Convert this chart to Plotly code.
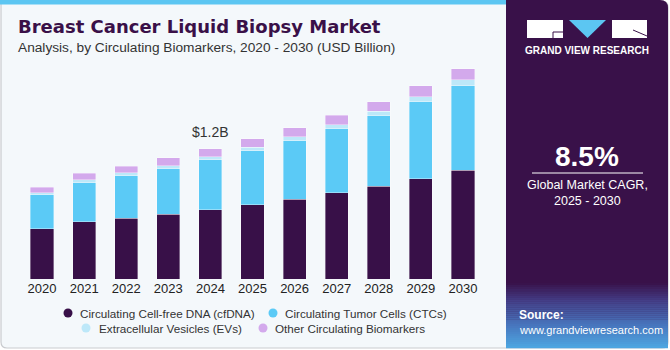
import plotly.graph_objects as go

years = ["2020", "2021", "2022", "2023", "2024", "2025", "2026", "2027", "2028", "2029", "2030"]
cfdna = [0.462, 0.526, 0.560, 0.597, 0.637, 0.683, 0.736, 0.794, 0.856, 0.926, 1.003]
ctcs = [0.314, 0.363, 0.393, 0.421, 0.464, 0.501, 0.541, 0.594, 0.652, 0.711, 0.781]
evs = [0.018, 0.025, 0.025, 0.028, 0.028, 0.031, 0.037, 0.037, 0.041, 0.043, 0.053]
other = [0.053, 0.062, 0.062, 0.071, 0.071, 0.077, 0.080, 0.087, 0.086, 0.102, 0.102]
series_names = ["Circulating Cell-free DNA (cfDNA)", "Circulating Tumor Cells (CTCs)",
                "Extracellular Vesicles (EVs)", "Other Circulating Biomarkers"]
colors = ["#381048", "#5bcaf6", "#bde8f9", "#d3a9ec"]
label_year = "2024"
label_text = "$1.2B"

W, H = 670, 350
def px(x):
    return x / W
def py(y):
    return 1 - y / H

fig = go.Figure()
for name, vals, col in zip(series_names, [cfdna, ctcs, evs, other], colors):
    fig.add_trace(go.Bar(x=years, y=vals, name=name, marker_color=col,
                         marker_line=dict(width=0.6, color="rgba(255,255,255,0.6)"),
                         showlegend=False))

totals = [a + b + c + d for a, b, c, d in zip(cfdna, ctcs, evs, other)]
idx = years.index(label_year)

shapes = []
# background card
shapes.append(dict(type="path", xref="paper", yref="paper",
                   path=f"M {px(1)},{py(1)} L {px(662)},{py(1)} Q {px(668)},{py(1)} {px(668)},{py(7)} "
                        f"L {px(668)},{py(342)} Q {px(668)},{py(348)} {px(662)},{py(348)} "
                        f"L {px(7)},{py(348)} Q {px(1)},{py(348)} {px(1)},{py(342)} Z",
                   fillcolor="#f4f8fb", line=dict(color="#c9cbcf", width=1.2), layer="below"))
# top blue strip
shapes.append(dict(type="rect", xref="paper", yref="paper", x0=px(0), x1=px(506), y0=py(0), y1=py(4.5),
                   fillcolor="#5cc6f2", line_width=0, layer="below"))
# right panel
shapes.append(dict(type="path", xref="paper", yref="paper",
                   path=f"M {px(506)},{py(0)} L {px(660)},{py(0)} Q {px(668)},{py(0)} {px(668)},{py(8)} "
                        f"L {px(668)},{py(348)} L {px(506)},{py(348)} Z",
                   fillcolor="#391149", line_width=0, layer="below"))
# gradient at bottom of the panel
stops = [(283, (57, 17, 73)), (300, (68, 62, 135)), (325, (72, 118, 190)), (348, (78, 168, 226))]
n = 32
y_start, y_end = 283, 348
for i in range(n):
    y0 = y_start + (y_end - y_start) * i / n
    y1 = y_start + (y_end - y_start) * (i + 1) / n
    ym = (y0 + y1) / 2
    for (a, ca), (b, cb) in zip(stops[:-1], stops[1:]):
        if a <= ym <= b:
            t = (ym - a) / (b - a)
            c = tuple(int(ca[k] + (cb[k] - ca[k]) * t) for k in range(3))
            break
    shapes.append(dict(type="rect", xref="paper", yref="paper", x0=px(506), x1=px(668),
                       y0=py(y0), y1=py(y1 + 0.3), fillcolor=f"rgb{c}", line_width=0, layer="below"))
# logo
shapes.append(dict(type="rect", xref="paper", yref="paper", x0=px(527), x1=px(563), y0=py(20), y1=py(38),
                   fillcolor="white", line_width=0))
shapes.append(dict(type="line", xref="paper", yref="paper", x0=px(553), x1=px(563), y0=py(32), y1=py(32),
                   line=dict(color="#391149", width=1)))
shapes.append(dict(type="line", xref="paper", yref="paper", x0=px(553), x1=px(553), y0=py(32), y1=py(38),
                   line=dict(color="#391149", width=1)))
shapes.append(dict(type="path", xref="paper", yref="paper",
                   path=f"M {px(569)},{py(20)} L {px(606)},{py(20)} L {px(587.5)},{py(38)} Z",
                   fillcolor="#5cc6f2", line_width=0))
shapes.append(dict(type="rect", xref="paper", yref="paper", x0=px(612), x1=px(647), y0=py(20), y1=py(38),
                   fillcolor="white", line_width=0))
shapes.append(dict(type="line", xref="paper", yref="paper", x0=px(633), x1=px(647), y0=py(30), y1=py(36),
                   line=dict(color="#391149", width=1)))
# CAGR separator line
shapes.append(dict(type="line", xref="paper", yref="paper", x0=px(532), x1=px(643), y0=py(173), y1=py(173),
                   line=dict(color="white", width=1)))

# legend dots
legend_pos = [(68, 313, 78), (273, 313, 283), (86, 328, 97), (263, 328, 273)]
annotations = []
for (dx, dy, tx), name, col in zip(legend_pos, series_names, colors):
    shapes.append(dict(type="circle", xref="paper", yref="paper", x0=px(dx - 4.5), x1=px(dx + 4.5),
                       y0=py(dy - 4.5), y1=py(dy + 4.5), fillcolor=col, line_width=0))
    annotations.append(dict(x=px(tx), y=py(dy), xref="paper", yref="paper", text=name, showarrow=False,
                            xanchor="left", yanchor="middle", font=dict(size=11.7, color="#333333")))

FONT = "Liberation Sans, Arial, sans-serif"
annotations += [
    dict(x=px(16), y=py(26), xref="paper", yref="paper", text="<b>Breast Cancer Liquid Biopsy Market</b>",
         showarrow=False, xanchor="left", yanchor="middle",
         font=dict(size=18, color="#3a1048", family="DejaVu Sans, sans-serif")),
    dict(x=px(16), y=py(48), xref="paper", yref="paper",
         text="Analysis, by Circulating Biomarkers, 2020 - 2030 (USD Billion)",
         showarrow=False, xanchor="left", yanchor="middle", font=dict(size=13.7, color="#333333")),
    dict(x=idx, y=totals[idx], xref="x", yref="y", text=label_text, showarrow=False,
         yanchor="bottom", yshift=7, font=dict(size=14, color="#333333")),
    dict(x=px(587), y=py(51), xref="paper", yref="paper", text="<b>GRAND VIEW RESEARCH</b>",
         showarrow=False, xanchor="center", yanchor="middle", font=dict(size=10, color="white")),
    dict(x=px(587), y=py(156), xref="paper", yref="paper", text="<b>8.5%</b>",
         showarrow=False, xanchor="center", yanchor="middle", font=dict(size=28, color="white")),
    dict(x=px(587), y=py(185), xref="paper", yref="paper", text="Global Market CAGR,",
         showarrow=False, xanchor="center", yanchor="middle", font=dict(size=12.5, color="white")),
    dict(x=px(587), y=py(201), xref="paper", yref="paper", text="2025 - 2030",
         showarrow=False, xanchor="center", yanchor="middle", font=dict(size=12.5, color="white")),
    dict(x=px(517), y=py(315), xref="paper", yref="paper", text="<b>Source:</b>",
         showarrow=False, xanchor="left", yanchor="middle", font=dict(size=12, color="white")),
    dict(x=px(517), y=py(330), xref="paper", yref="paper", text="www.grandviewresearch.com",
         showarrow=False, xanchor="left", yanchor="middle", font=dict(size=11, color="white")),
]

fig.update_layout(
    width=W, height=H, barmode="stack", bargap=0.45,
    margin=dict(l=0, r=0, t=0, b=0),
    paper_bgcolor="white", plot_bgcolor="rgba(0,0,0,0)",
    font=dict(family=FONT, color="#333333"),
    xaxis=dict(domain=[px(21), px(484)], range=[-0.5, 10.5], showgrid=False, showline=False,
               ticks="", tickfont=dict(size=13, color="#222222"), fixedrange=True),
    yaxis=dict(domain=[py(279), py(60)], range=[0, 2.02], visible=False, fixedrange=True),
    shapes=shapes, annotations=annotations,
)

fig.write_html("out.html")
